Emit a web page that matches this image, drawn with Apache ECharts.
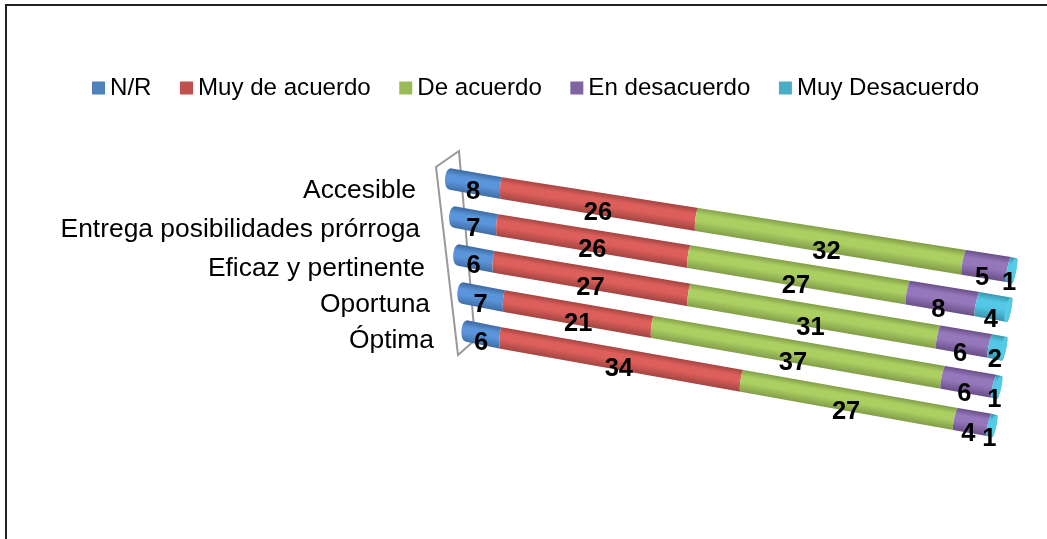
<!DOCTYPE html>
<html><head><meta charset="utf-8">
<script src="https://cdn.jsdelivr.net/npm/echarts@6/dist/echarts.min.js"></script>
<style>html,body{margin:0;padding:0;background:#fff}#c{width:1047px;height:539px}</style>
</head><body><div id="c"></div>
<script>
const categories = ['Accesible','Entrega posibilidades prórroga','Eficaz y pertinente','Oportuna','Óptima'];
const seriesNames = ['N/R','Muy de acuerdo','De acuerdo','En desacuerdo','Muy Desacuerdo'];
const nr = [8,7,6,7,6];
const muyDeAcuerdo = [26,26,27,21,34];
const deAcuerdo = [32,27,31,37,27];
const enDesacuerdo = [5,8,6,6,4];
const muyDesacuerdo = [1,4,2,1,1];
const allValues = [nr,muyDeAcuerdo,deAcuerdo,enDesacuerdo,muyDesacuerdo];
const colors = ['#4F81BD','#C0504D','#9BBB59','#8064A2','#4BACC6'];
const shades = [['#3F6CA3','#5A94DA'],['#A34441','#DC5F5B'],['#829E49','#ACCF62'],['#6A5089','#9578BC'],['#3A96AE','#52C8E6']];
const labelRight = [416,420,425,430,434];
const labelY = [191,230,269,305,341];
const labelDx = [0,1,0,-4,-4];
const labelDy = [8,10,12,12,13];

const GL=445,GW=573,GT=160,GH=190;
// perspective projection of the bar plane
function persp(f){return 0.877*f/(1-0.1224*f);}
function project(api,v,row){
  const p=api.coord([v,row]);
  const f=(p[0]-GL)/GW;
  const w=GW-9.1*row;
  const drop=(92+2.5*row)/GW;
  const g=persp(f);
  const dx=g*w;
  return {x:GL+row*4.1+dx, y:p[1]+dx*drop, drop:drop, th:21.5+g*(3.5-0.7*row), skew:1+g*4};
}
function pt(api,v,row,t,shift,bulge){
  const b=project(api,v,row);
  const c=Math.sqrt(Math.max(0,1-4*t*t));
  return [b.x+shift-t*b.skew-bulge*c, b.y+t*b.th];
}
function renderer(si){
  return function(params,api){
    const row=api.value(0), a=api.value(1), e=api.value(2), val=api.value(3);
    const n=14, pts=[];
    const first=si===0, last=si===4;
    for(let i=0;i<=n;i++){const t=-.5+i/n; pts.push(first?pt(api,a,row,t,5,5):pt(api,a,row,t,0,1.5));}
    for(let i=n;i>=0;i--){const t=-.5+i/n; pts.push(last?pt(api,e,row,t,-3,-1.5):pt(api,e,row,t,0,1.5));}
    const c=project(api,(a+e)/2,row);
    const hyp=Math.hypot(1,c.drop), nx=-c.drop/hyp, ny=1/hyp, h=c.th/2;
    const fill=new echarts.graphic.LinearGradient(c.x-nx*h,c.y-ny*h,c.x+nx*h,c.y+ny*h,[
      {offset:0,color:shades[si][0]},{offset:.28,color:shades[si][1]},{offset:.55,color:shades[si][1]},{offset:1,color:shades[si][0]}],true);
    const children=[{type:'polygon',shape:{points:pts},style:{fill:fill}}];
    if(last){
      const f=[],N=28,b=project(api,e,row);
      for(let i=0;i<N;i++){const ang=i/N*2*Math.PI,t=Math.sin(ang)/2;
        f.push([b.x-3-t*b.skew-1.5+3*Math.cos(ang),b.y+t*b.th]);}
      children.push({type:'polygon',shape:{points:f},style:{fill:'#56CBE4'}});
    }
    children.push({type:'text',z2:50,style:{text:String(val),x:c.x+labelDx[si],y:c.y+labelDy[si],align:'center',verticalAlign:'middle',
      font:'bold 25.5px "Liberation Sans", Arial, sans-serif',fill:'#000'}});
    return {type:'group',children:children};
  };
}
function seriesData(si){
  return categories.map((_,r)=>{
    let s=0;for(let k=0;k<si;k++)s+=allValues[k][r];
    return [r,s,s+allValues[si][r],allValues[si][r]];
  });
}
const series=seriesNames.map((name,si)=>({
  name:name,type:'custom',coordinateSystem:'cartesian2d',clip:false,z:5,
  itemStyle:{color:colors[si]},
  encode:{x:[1,2],y:0},
  data:seriesData(si).slice().reverse(),
  renderItem:renderer(si)
}));
series.push({name:'cats',type:'custom',coordinateSystem:'cartesian2d',clip:false,silent:true,z:6,
  encode:{x:0,y:1},data:categories.map((_,r)=>[0,r]),
  renderItem:function(p,api){const r=api.value(1);
    return {type:'text',style:{text:categories[r],x:labelRight[r],y:labelY[r],align:'right',verticalAlign:'middle',
      font:'26.4px "Liberation Sans", Arial, sans-serif',fill:'#000'}};}
});
const chart=echarts.init(document.getElementById('c'),null,{renderer:'canvas'});
chart.setOption({
  animation:false,backgroundColor:'#fff',
  grid:{left:GL,top:GT,width:GW,height:GH,containLabel:false},
  xAxis:{type:'value',min:0,max:72,show:false},
  yAxis:{type:'category',data:categories,inverse:true,show:false},
  legend:{data:seriesNames,left:92,top:76,padding:0,itemWidth:13,itemHeight:13,itemGap:28.5,icon:'rect',
    selectedMode:false,textStyle:{fontFamily:'"Liberation Sans", Arial, sans-serif',fontSize:24.1,color:'#000'}},
  graphic:[
    {type:'polyline',z:-1,shape:{points:[[6,539],[6,5],[1047,5]]},style:{stroke:'#222',lineWidth:2,fill:null}},
    {type:'polyline',z:1,shape:{points:[[475,340],[459,151],[436,167],[458,355],[475,340]]},style:{stroke:'#999',lineWidth:2,fill:null}}
  ],
  series:series
});
</script></body></html>
